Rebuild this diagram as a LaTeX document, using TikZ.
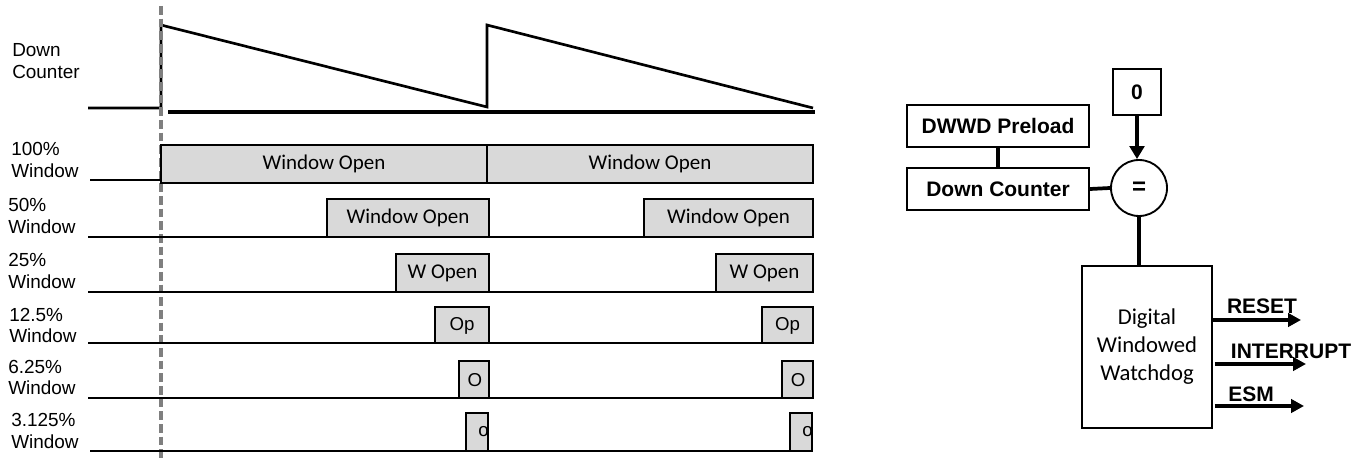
\documentclass[tikz,border=0pt]{standalone}
\usepackage{fontspec}
\setmainfont{Liberation Sans}
\newfontfamily\calfont{Carlito}
\usetikzlibrary{arrows.meta}
\definecolor{boxgray}{HTML}{D9D9D9}
\definecolor{dashgray}{HTML}{7F7F7F}
\begin{document}
\begin{tikzpicture}[x=0.75pt,y=-0.75pt,
  wave/.style={line width=2pt, line join=miter},
  winbox/.style={draw, line width=2pt, fill=boxgray},
  lowline/.style={line width=1.8pt},
  lbl/.style={anchor=west, inner sep=0pt, align=left, font=\fontsize{14.2}{16.2}\selectfont},
  wtext/.style={inner sep=0pt, font=\calfont\fontsize{15.75}{18}\selectfont},
  stext/.style={inner sep=0pt, font=\fontsize{14}{16}\selectfont},
  blk/.style={draw, line width=1.4pt, font=\bfseries\fontsize{15.75}{18}\selectfont, inner sep=0pt},
  conn/.style={line width=2.8pt},
  outarrow/.style={line width=3pt, -{Triangle[length=9.75pt,width=10pt]}},
  outlbl/.style={inner sep=0pt, font=\bfseries\fontsize{15.75}{18}\selectfont}]
\useasboundingbox (0,0) rectangle (1366,459);

% ---------- labels ----------
\node[lbl] (lDC) at (12,61) {Down\\Counter};
\node[lbl] (l100) at (11,160) {100\%\\Window};
\node[lbl] (l50) at (8,216) {50\%\\Window};
\node[lbl] (l25) at (8,271) {25\%\\Window};
\node[lbl] (l125) at (9,325.5) {12.5\%\\Window};
\node[lbl] (l625) at (8,377.5) {6.25\%\\Window};
\node[lbl] (l3125) at (11,431) {3.125\%\\Window};

% ---------- down counter waveform ----------
\draw[wave] (88,108) -- (161,108) -- (161,25) -- (487,107) -- (487,25) -- (813,108);
\draw[line width=3.2pt] (168,112) -- (815,112);

% ---------- dashed reference line ----------
\draw[dashgray, line width=2.6pt, dash pattern=on 6.5pt off 3pt] (161,6) -- (161,459);

% ---------- 100% ----------
\draw[lowline] (90,180) -- (161,180);
\draw[winbox] (161,145) rectangle (487,183);
\draw[winbox] (487,145) rectangle (813,183);
\node[wtext] (t100a) at (324,164) {Window Open};
\node[wtext] (t100b) at (650,164) {Window Open};

% ---------- 50% ----------
\draw[lowline] (88,237) -- (327,237) (489,237) -- (644,237);
\draw[winbox] (327,199) rectangle (489,237);
\draw[winbox] (644,199) rectangle (813,237);
\node[wtext] (t50a) at (408,218) {Window Open};
\node[wtext] (t50b) at (728.5,218) {Window Open};

% ---------- 25% ----------
\draw[lowline] (88,292) -- (396,292) (489,292) -- (716,292);
\draw[winbox] (396,254) rectangle (489,292);
\draw[winbox] (716,254) rectangle (813,292);
\node[wtext] (t25a) at (442.5,273) {W Open};
\node[wtext] (t25b) at (764.5,273) {W Open};

% ---------- 12.5% ----------
\draw[lowline] (88,343) -- (435,343) (489,343) -- (762,343);
\draw[winbox] (435,307) rectangle (489,343);
\draw[winbox] (762,307) rectangle (813,343);
\node[stext] (t125a) at (462,326) {Op};
\node[stext] (t125b) at (787.5,326) {Op};

% ---------- 6.25% ----------
\draw[lowline] (88,398) -- (459,398) (489,398) -- (782,398);
\draw[winbox] (459,361) rectangle (489,398);
\draw[winbox] (782,361) rectangle (813,398);
\node[stext] (t625a) at (475,380) {O};
\node[stext] (t625b) at (798,380) {O};

% ---------- 3.125% ----------
\draw[lowline] (90,451) -- (466,451) (488,451) -- (790,451);
\draw[winbox] (466,413) rectangle (488,451);
\draw[winbox] (790,413) rectangle (812,451);
\node[stext] (t3125a) at (483.5,432) {o};
\node[stext] (t3125b) at (807.5,432) {o};
\draw[line width=2pt] (466,413) rectangle (488,451);
\draw[line width=2pt] (790,413) rectangle (812,451);

% ---------- block diagram ----------
\node[blk, minimum width=36pt, minimum height=34.5pt] (zero) at (1137,92) {0};
\node[blk, minimum width=136.5pt, minimum height=31.5pt] (preload) at (998,126) {DWWD Preload};
\node[blk, minimum width=136.5pt, minimum height=31.5pt] (dc) at (998,189) {Down Counter};
\node[blk, circle, minimum size=42pt, font=\bfseries\fontsize{18}{20}\selectfont] (eq) at (1139,188) {=};
\node[draw, line width=1.4pt, minimum width=97.5pt, minimum height=121.5pt, align=center,
      font=\calfont\fontsize{17}{21}\selectfont] (wd) at (1147,347) {Digital\\Windowed\\Watchdog};

\draw[conn] (preload) -- (dc);
\draw[conn] (dc.east) -- (eq.west);
\draw[conn, -{Triangle[length=9.75pt,width=11pt]}] (zero.south) -- (zero.south |- eq.north);
\draw[conn] (eq.south) -- (eq.south |- wd.north);

\coordinate (resetEnd) at (1301,320);
\coordinate (intEnd) at (1306,364);
\coordinate (esmEnd) at (1304,406);
\draw[outarrow] (wd.east |- resetEnd) -- (resetEnd);
\draw[outarrow] ([xshift=1.5pt]wd.east |- intEnd) -- (intEnd);
\draw[outarrow] ([xshift=1.5pt]wd.east |- esmEnd) -- (esmEnd);
\node[outlbl] (lreset) at (1262,306) {RESET};
\node[outlbl] (lint) at (1291,351) {INTERRUPT};
\node[outlbl] (lesm) at (1251,394) {ESM};
\end{tikzpicture}
\end{document}
